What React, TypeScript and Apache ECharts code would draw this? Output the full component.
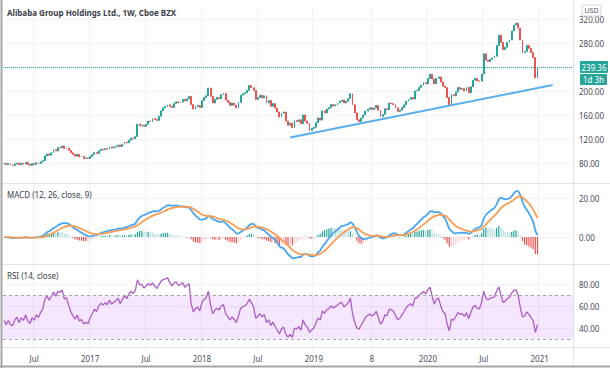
import React, { useEffect, useRef } from 'react';
import * as echarts from 'echarts';

// ---------- data ----------
const START_UTC = Date.UTC(2016, 2, 28); // first weekly bar (Mon 2016-03-28)
const WEEK_COUNT = 265; // bars on the time scale incl. empty space on the right

// weekly closes, 2016-03-28 .. 2020-12-28
const closes2016 = [79.5, 77, 79, 76.5, 76, 78.5, 80, 77, 79.5, 78, 81, 77.5, 76, 79, 77.5, 80.5, 79, 82, 84, 92, 95, 93, 97, 102, 100, 106, 105.5, 108.5, 104, 105, 101, 97, 94, 91.5, 94.5, 90, 91, 87.5, 88.5, 87.5];
const closes2017 = [91, 94, 97.5, 96, 100.5, 103, 102, 104, 103, 107, 105, 106.5, 108, 110, 107.5, 111, 115, 113.5, 118, 121.5, 120.5, 124, 145, 142, 143, 141, 144.5, 150, 149, 154, 152.5, 151, 158, 167, 172, 174, 177, 174.5, 172.5, 179, 182, 180, 181.5, 186, 183.5, 187, 191, 177.5, 170, 174, 176, 172.5];
const closes2018 = [184, 189, 192, 205, 191, 180, 186, 189, 187, 194, 196, 185, 181, 176, 180, 176.5, 172, 181, 193, 195.5, 197, 201, 209, 205.5, 201, 186, 189, 193, 188.5, 192, 180, 184, 174.5, 179, 171.5, 165, 156.5, 163, 165, 150, 143, 146.5, 139, 151, 149, 152, 145.5, 160, 150, 146, 134, 137.5];
const closes2019 = [139.5, 147, 155, 151.5, 167, 163.5, 170, 172, 177.5, 175, 177, 180, 183, 185, 180, 183, 187, 195.5, 177, 163.5, 152, 149, 155, 160, 166.5, 169.5, 172, 169, 171.5, 176, 168, 157.5, 161, 170.5, 169, 180, 179, 177.5, 172, 166, 168, 172.5, 177, 183, 186, 189, 186.5, 200, 201, 206, 209.5, 214];
const closes2020 = [212, 221, 228, 220, 212, 221, 223.5, 215, 208, 205.5, 189, 176, 194, 192, 198.5, 206, 203, 204, 200, 206, 197, 207, 218, 221, 217, 216.5, 228.5, 262, 251.5, 249, 253, 255, 258, 276, 293, 281, 269, 273, 281, 285, 300, 310, 313, 305, 285, 264, 266, 276, 271, 264, 256, 222, 239.36];
const closes = [...closes2016, ...closes2017, ...closes2018, ...closes2019, ...closes2020];

const lastPrice = 239.36;
const countdownText = '1d 3h';

const tickDates = ['2016-07-04', '2017-01-02', '2017-07-03', '2018-01-01', '2018-07-02', '2018-12-31', '2019-07-08', '2020-01-06', '2020-07-06', '2021-01-04'];
const tickTexts = ['Jul', '2017', 'Jul', '2018', 'Jul', '2019', '8', '2020', 'Jul', '2021'];

const priceLabels = [80, 120, 160, 200, 280, 320];
const macdLabels = [0, 20];
const rsiLabels = [40, 60, 80];

// trend line drawn on the chart: [date, price]
const trendStart: [string, number] = ['2018-10-15', 122.5];
const trendEnd: [string, number] = ['2021-02-15', 210];

const titleText = 'Alibaba Group Holdings Ltd., 1W, Cboe BZX';
const macdTitle = 'MACD (12, 26, close, 9)';
const rsiTitle = 'RSI (14, close)';

// ---------- derived ----------
const categories = Array.from({ length: WEEK_COUNT }, (_, i) =>
  new Date(START_UTC + i * 7 * 86400000).toISOString().slice(0, 10)
);
const tickTextByDate: Record<string, string> = {};
tickDates.forEach((d, i) => (tickTextByDate[d] = tickTexts[i]));
const tickIndexSet = new Set(tickDates.map((d) => categories.indexOf(d)));

const candles = closes.map((c, i) => {
  const o = i === 0 ? c : closes[i - 1];
  return [o, c, Math.min(o, c), Math.max(o, c)];
});

function ema(src: number[], n: number) {
  const k = 2 / (n + 1);
  const out: number[] = [];
  src.forEach((v, i) => out.push(i === 0 ? v : v * k + out[i - 1] * (1 - k)));
  return out;
}
const e12 = ema(closes, 12);
const e26 = ema(closes, 26);
const macd = e12.map((v, i) => v - e26[i]);
const signal = ema(macd, 9);
const hist = macd.map((v, i) => v - signal[i]);
const histColors = hist.map((h, i) => {
  const p = i > 0 ? hist[i - 1] : h;
  if (h >= 0) return h >= p ? '#26a69a' : '#b2dfdb';
  return h <= p ? '#ef5350' : '#ffcdd2';
});

const rsi: number[] = (() => {
  const ch = closes.slice(1).map((c, i) => c - closes[i]);
  let ag = 0;
  let al = 0;
  for (let i = 0; i < 14; i++) {
    ag += Math.max(ch[i], 0) / 14;
    al += Math.max(-ch[i], 0) / 14;
  }
  const out: number[] = [100 - 100 / (1 + ag / al)];
  ch.forEach((c) => {
    ag = (ag * 13 + Math.max(c, 0)) / 14;
    al = (al * 13 + Math.max(-c, 0)) / 14;
    out.push(al === 0 ? 100 : 100 - 100 / (1 + ag / al));
  });
  return out;
})();

// ---------- styling ----------
const FONT = "'Noto Sans', sans-serif";
const UP = '#26a69a';
const DOWN = '#ef5350';
const GRID_LINE = '#f0f2f6';
const SEP = '#e0e3eb';
const AXIS_TEXT = '#4a4e59';

const gridBox = { left: 3, right: 37, outerBoundsMode: 'none' };

function xAxis(gridIndex: number, labels: boolean) {
  return {
    type: 'category',
    gridIndex,
    data: categories,
    boundaryGap: true,
    axisLine: { show: false },
    axisTick: { show: false },
    axisLabel: labels
      ? {
          show: true,
          interval: (i: number) => tickIndexSet.has(i),
          formatter: (v: string) => tickTextByDate[v] || '',
          fontSize: 8,
          color: AXIS_TEXT,
          margin: 4,
          fontFamily: FONT,
        }
      : { show: false },
    splitLine: {
      show: true,
      interval: (i: number) => tickIndexSet.has(i),
      lineStyle: { color: GRID_LINE, width: 1 },
    },
  };
}

function yAxis(gridIndex: number, min: number, max: number, interval: number, shown: number[]) {
  return {
    type: 'value',
    gridIndex,
    position: 'right',
    min,
    max,
    interval,
    axisLine: { show: false },
    axisTick: { show: false },
    axisLabel: {
      customValues: shown,
      formatter: (v: number) => (shown.includes(v) ? v.toFixed(2) : ''),
      fontSize: 8,
      color: AXIS_TEXT,
      margin: 6,
      fontFamily: FONT,
    },
    splitLine: {
      show: true,
      showMinLine: false,
      showMaxLine: false,
      lineStyle: { color: GRID_LINE, width: 1 },
    },
  };
}

const option = {
  animation: false,
  backgroundColor: '#ffffff',
  textStyle: { fontFamily: FONT },
  grid: [
    { ...gridBox, top: 7, height: 180 },
    { ...gridBox, top: 159, height: 117 },
    { ...gridBox, top: 262, height: 88 },
  ],
  xAxis: [xAxis(0, false), xAxis(1, false), xAxis(2, true)],
  yAxis: [
    yAxis(0, 40, 340, 40, priceLabels),
    yAxis(1, -20, 40, 20, macdLabels),
    yAxis(2, 20, 100, 20, rsiLabels),
  ],
  series: [
    {
      type: 'candlestick',
      xAxisIndex: 0,
      yAxisIndex: 0,
      data: candles,
      barWidth: 1.4,
      itemStyle: { color: UP, color0: DOWN, borderColor: UP, borderColor0: DOWN, borderWidth: 1 },
      markLine: {
        silent: true,
        symbol: 'none',
        label: { show: false },
        lineStyle: { color: UP, type: 'dotted', width: 1 },
        data: [{ yAxis: lastPrice }],
      },
    },
    {
      type: 'line',
      xAxisIndex: 0,
      yAxisIndex: 0,
      data: [trendStart, trendEnd],
      symbol: 'none',
      lineStyle: { color: '#5aaef0', width: 2 },
    },
    {
      type: 'bar',
      xAxisIndex: 1,
      yAxisIndex: 1,
      barWidth: 1.2,
      data: hist.map((v, i) => ({ value: v, itemStyle: { color: histColors[i] } })),
    },
    {
      type: 'line',
      xAxisIndex: 1,
      yAxisIndex: 1,
      data: macd,
      symbol: 'none',
      lineStyle: { color: '#4aa6f0', width: 1.8 },
    },
    {
      type: 'line',
      xAxisIndex: 1,
      yAxisIndex: 1,
      data: signal,
      symbol: 'none',
      lineStyle: { color: '#f79d55', width: 1.8 },
    },
    {
      type: 'line',
      xAxisIndex: 2,
      yAxisIndex: 2,
      data: rsi,
      symbol: 'none',
      lineStyle: { color: '#ae5cc6', width: 1.3 },
      markArea: {
        silent: true,
        itemStyle: { color: 'rgba(153,21,255,0.1)' },
        data: [[{ yAxis: 30 }, { yAxis: 70 }]],
      },
      markLine: {
        silent: true,
        symbol: 'none',
        label: { show: false },
        lineStyle: { color: '#a3a6ae', type: [3, 3], width: 1 },
        data: [{ yAxis: 70 }, { yAxis: 30 }],
      },
    },
  ],
  graphic: [
    // pane separators
    { type: 'line', z: 90, shape: { x1: 2, y1: 183.5, x2: 610, y2: 183.5 }, style: { stroke: SEP, lineWidth: 1 } },
    { type: 'line', z: 90, shape: { x1: 2, y1: 264.5, x2: 610, y2: 264.5 }, style: { stroke: SEP, lineWidth: 1 } },
    { type: 'line', z: 90, shape: { x1: 2, y1: 347.5, x2: 610, y2: 347.5 }, style: { stroke: SEP, lineWidth: 1 } },
    { type: 'line', z: 90, shape: { x1: 573.5, y1: 0, x2: 573.5, y2: 366 }, style: { stroke: SEP, lineWidth: 1 } },
    // outer frame
    { type: 'line', z: 95, shape: { x1: 1.5, y1: 0, x2: 1.5, y2: 368 }, style: { stroke: '#a5a5a5', lineWidth: 2 } },
    { type: 'line', z: 95, shape: { x1: 0, y1: 366.5, x2: 610, y2: 366.5 }, style: { stroke: '#a5a5a5', lineWidth: 2 } },
    // titles
    { type: 'text', z: 100, left: 7, top: 8, style: { text: titleText, fontSize: 8, fontWeight: 'bold', fill: '#3a3e49', fontFamily: FONT } },
    { type: 'text', z: 100, left: 7, top: 190, style: { text: macdTitle, fontSize: 8, fill: '#3a3e49', fontFamily: FONT } },
    { type: 'text', z: 100, left: 7, top: 271, style: { text: rsiTitle, fontSize: 8, fill: '#3a3e49', fontFamily: FONT } },
    // last price badge
    { type: 'rect', z: 100, shape: { x: 580, y: 61, width: 28, height: 12, r: 1 }, style: { fill: UP } },
    { type: 'text', z: 101, x: 594, y: 67, style: { text: lastPrice.toFixed(2), fontSize: 8, fill: '#ffffff', align: 'center', verticalAlign: 'middle', fontFamily: FONT } },
    { type: 'rect', z: 100, shape: { x: 580, y: 74, width: 27, height: 11, r: 1 }, style: { fill: UP } },
    { type: 'text', z: 101, x: 593.5, y: 79.5, style: { text: countdownText, fontSize: 8, fill: '#ffffff', align: 'center', verticalAlign: 'middle', fontFamily: FONT } },
    // currency badge
    { type: 'rect', z: 100, shape: { x: 582, y: 5, width: 19, height: 11, r: 2 }, style: { fill: '#ffffff', stroke: '#d1d4dc', lineWidth: 1 } },
    { type: 'text', z: 101, x: 591.5, y: 10.5, style: { text: 'USD', fontSize: 7, fill: '#50535e', align: 'center', verticalAlign: 'middle', fontFamily: FONT } },
  ],
};

export default function App() {
  const ref = useRef<HTMLDivElement>(null);
  useEffect(() => {
    document.body.style.margin = '0';
    const chart = echarts.init(ref.current as HTMLDivElement, null, { renderer: 'svg' });
    chart.setOption(option as any);
    return () => chart.dispose();
  }, []);
  return <div ref={ref} style={{ position: 'absolute', left: 0, top: 0, width: 610, height: 368 }} />;
}
